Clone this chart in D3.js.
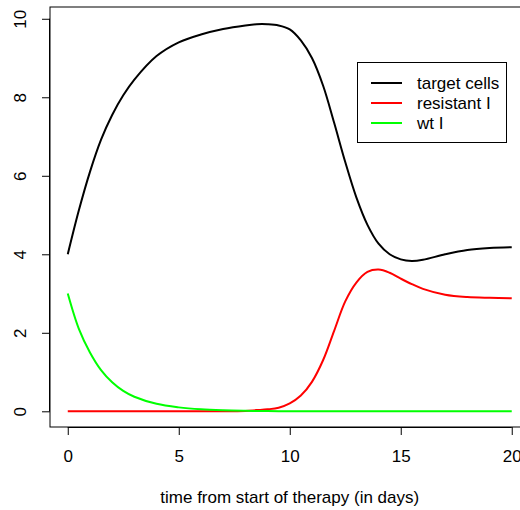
<!DOCTYPE html>
<html>
<head>
<meta charset="utf-8">
<script src="https://d3js.org/d3.v7.min.js"></script>
<style>
  body { margin: 0; background: #fff; }
  svg { display: block; font-family: "Liberation Sans", Arial, sans-serif; }
</style>
</head>
<body>
<svg id="chart"></svg>
<script>
// time points (days) and the three series
const time = [0, 0.5, 1, 1.5, 2, 2.5, 3, 4, 5, 6, 7, 8, 8.5, 9, 9.5, 10, 10.5, 11, 11.5, 12,
              12.5, 13, 13.5, 14, 14.5, 15, 15.5, 16, 17, 18, 19, 20];
const targetCells = [4.0, 5.12, 6.1, 6.92, 7.55, 8.05, 8.45, 9.05, 9.4, 9.6, 9.74, 9.83, 9.86, 9.86, 9.83, 9.73,
                     9.45, 9.0, 8.3, 7.35, 6.35, 5.45, 4.75, 4.27, 4.0, 3.87, 3.83, 3.86, 4.0, 4.11, 4.16, 4.18];
const resistantI = [0, 0, 0, 0, 0, 0, 0, 0, 0, 0, 0, 0.01, 0.03, 0.05, 0.09, 0.2,
                    0.4, 0.75, 1.3, 2.05, 2.8, 3.28, 3.55, 3.61, 3.53, 3.38, 3.24, 3.12, 2.97, 2.91, 2.89, 2.88];
const wtI = [3.0, 2.1, 1.5, 1.05, 0.74, 0.52, 0.37, 0.19, 0.1, 0.05, 0.025, 0.012, 0.008, 0.005, 0.003, 0,
             0, 0, 0, 0, 0, 0, 0, 0, 0, 0, 0, 0, 0, 0, 0, 0];

const seriesNames = ["target cells", "resistant I", "wt I"];
const seriesColors = ["#000000", "#ff0000", "#00ff00"];
const xTicks = [0, 5, 10, 15, 20];
const yTicks = [0, 2, 4, 6, 8, 10];

const width = 520, height = 510;
const plot = { left: 50, top: 7, right: 529.5, bottom: 427 };
const fontSize = 17;

const svg = d3.select("#chart").attr("width", width).attr("height", height);

const x = d3.scaleLinear().domain([-0.8, 20.8]).range([plot.left, plot.right]);
const y = d3.scaleLinear().domain([-0.4, 10.3]).range([plot.bottom, plot.top]);

// curves, drawn in the same order as the legend
const series = [targetCells, resistantI, wtI];
const line = d3.line()
    .x((d, i) => x(time[i]))
    .y(d => y(d))
    .curve(d3.curveCatmullRom.alpha(0.5));

series.forEach(function (vals, k) {
    svg.append("path")
        .datum(vals)
        .attr("d", line)
        .attr("fill", "none")
        .attr("stroke", seriesColors[k])
        .attr("stroke-width", 2);
});

// frame
svg.append("rect")
    .attr("x", plot.left)
    .attr("y", plot.top)
    .attr("width", plot.right - plot.left)
    .attr("height", plot.bottom - plot.top)
    .attr("fill", "none")
    .attr("stroke", "#000")
    .attr("stroke-width", 1);

// x axis
const xAxis = d3.axisBottom(x).tickValues(xTicks).tickSize(8).tickPadding(15).tickSizeOuter(0);
const gx = svg.append("g").attr("transform", `translate(0,${plot.bottom})`).call(xAxis);
gx.select(".domain").attr("d", `M${x(0)},0.5H${x(20)}`);
gx.selectAll("text").attr("font-size", fontSize).attr("font-family", "Liberation Sans, Arial, sans-serif").attr("fill", "#000");

// y axis, labels rotated like R's default
const yAxis = d3.axisLeft(y).tickValues(yTicks).tickSize(8).tickPadding(0).tickSizeOuter(0);
const gy = svg.append("g").attr("transform", `translate(${plot.left},0)`).call(yAxis);
gy.select(".domain").attr("d", `M-0.5,${y(0)}V${y(10)}`);
gy.selectAll("text")
    .attr("font-size", fontSize)
    .attr("font-family", "Liberation Sans, Arial, sans-serif")
    .attr("fill", "#000")
    .attr("text-anchor", "middle")
    .attr("x", 0)
    .attr("dy", 0)
    .attr("transform", "translate(-24,0) rotate(-90)");

// axis title
svg.append("text")
    .attr("x", (plot.left + plot.right) / 2)
    .attr("y", 503)
    .attr("text-anchor", "middle")
    .attr("font-size", fontSize)
    .text("time from start of therapy (in days)");

// legend
const legend = svg.append("g");
legend.append("rect")
    .attr("x", 357.5).attr("y", 62.5)
    .attr("width", 149).attr("height", 80)
    .attr("fill", "#fff").attr("stroke", "#000");
seriesNames.forEach(function (name, i) {
    const ly = 83 + i * 20;
    legend.append("line")
        .attr("x1", 371).attr("x2", 402)
        .attr("y1", ly).attr("y2", ly)
        .attr("stroke", seriesColors[i]).attr("stroke-width", 2);
    legend.append("text")
        .attr("x", 417).attr("y", ly + 6)
        .attr("font-size", fontSize)
        .text(name);
});
</script>
</body>
</html>
